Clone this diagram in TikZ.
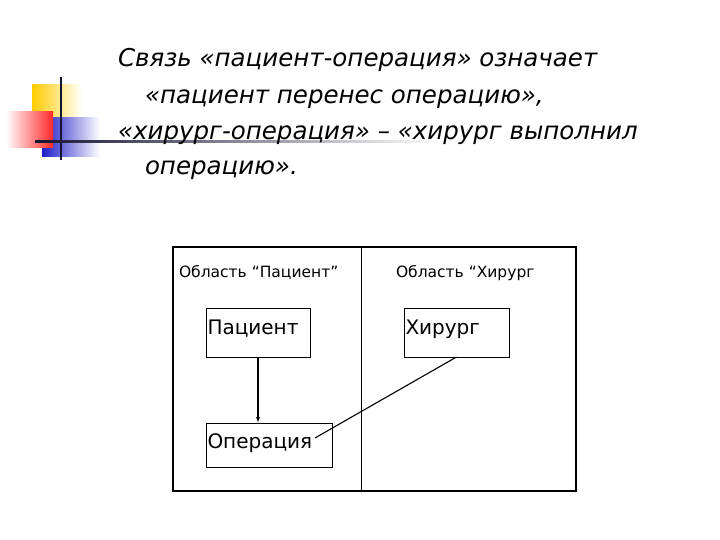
\documentclass[tikz,border=0pt]{standalone}
\usepackage{fontspec}
\setmainfont{DejaVu Sans}
\usetikzlibrary{arrows.meta, calc}
\newcommand{\tip}{{Latex[length=6pt, width=4pt]}}
\newcommand{\frameWidth}{1.8pt}
\newcommand{\boxWidth}{0.8pt}
\newcommand{\linkWidth}{1.1pt}
\newcommand{\titleSize}{\fontsize{24.5}{29}\selectfont\itshape}
\newcommand{\areaSize}{\fontsize{15.5}{18}\selectfont}
\newcommand{\entitySize}{\fontsize{20}{24}\selectfont}
\definecolor{deckYellow}{RGB}{255,204,0}
\definecolor{deckRed}{RGB}{255,40,40}
\definecolor{deckBlue}{RGB}{30,30,200}
\definecolor{deckInk}{RGB}{20,20,50}
\tikzstyle{panel}=[draw=none, inner sep=0, outer sep=0]
\tikzstyle{titleline}=[panel, anchor=base west, font=\titleSize]
\tikzstyle{area}=[panel, anchor=base west, font=\areaSize]
\tikzstyle{entity}=[panel, draw=black, line width=\boxWidth, anchor=north west, align=left, inner xsep=1.5pt, font=\entitySize]
\tikzstyle{line}=[draw=black, line width=\linkWidth]
\tikzstyle{arrow}=[line, -\tip]

\begin{document}
\begin{tikzpicture}[x=1pt, y=-1pt]
\useasboundingbox (0,0) rectangle (720,540);

% Slide ornament
\shade[left color=deckYellow, middle color=deckYellow!85, right color=white] (32,85) rectangle (82,120);
\shade[left color=deckBlue, middle color=deckBlue!80, right color=white] (42,118) rectangle (100,157);
\shade[left color=white, middle color=deckRed!60, right color=deckRed] (6,112) rectangle (53,148);
\draw[deckInk, line width=2pt] (61,77) -- (61,160);
\shade[left color=deckInk, middle color=deckInk!60, right color=white] (35,140.5) rectangle (440,143);

% Title
\node[titleline] (title1) at (118,67) {Связь «пациент-операция» означает};
\node[titleline] (title2) at (145,104) {«пациент перенес операцию»,};
\node[titleline] (title3) at (118,140) {«хирург-операция» – «хирург выполнил};
\node[titleline] (title4) at (145,175) {операцию».};

% Frame
\node[panel, draw=black, line width=\frameWidth, anchor=north west, minimum width=403pt, minimum height=244pt] (frame) at (173,247) {};
\draw[draw=black, line width=\boxWidth] ($(frame.north west)!0.467!(frame.north east)$) -- ($(frame.south west)!0.467!(frame.south east)$);

% Areas
\node[area] (areaPatient) at (179,277) {Область “Пациент”};
\node[area] (areaSurgeon) at (396,277) {Область “Хирург};

% Entities
\node[entity, text width=101pt, text height=26pt, text depth=23pt] (patient) at (206,308) {Пациент};
\node[entity, text width=102pt, text height=26pt, text depth=23pt] (surgeon) at (404,308) {Хирург};
\node[entity, text width=123pt, text height=25pt, text depth=19pt] (operation) at (206,423) {Операция};

% Links
\coordinate (opEnd) at (315,438);
\draw[arrow] (patient.south) -- (patient.south |- operation.north);
\draw[line] (surgeon.south) -- (opEnd);

\end{tikzpicture}
\end{document}
